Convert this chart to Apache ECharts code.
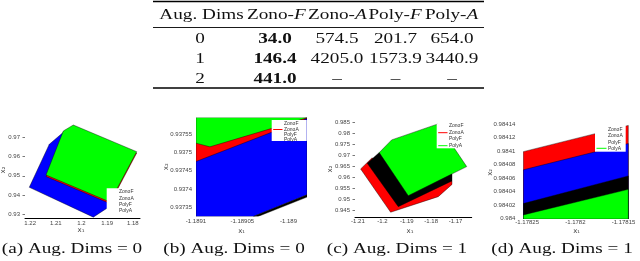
<!DOCTYPE html>
<html><head><meta charset="utf-8">
<script src="https://cdn.jsdelivr.net/npm/echarts@6/dist/echarts.min.js"></script>
<style>html,body{margin:0;padding:0;background:#fff}#c{width:640px;height:261px}</style>
</head><body><div id="c"></div>
<script>
// ---------- table data ----------
const tableHeader = ['Aug. Dims', 'Zono-F', 'Zono-A', 'Poly-F', 'Poly-A'];
const augDims = ['0', '1', '2'];
const zonoF = ['34.0', '146.4', '441.0'];
const zonoA = ['574.5', '4205.0', '–'];
const polyF = ['201.7', '1573.9', '–'];
const polyA = ['654.0', '3440.9', '–'];
const subCaptions = ['(a) Aug. Dims = 0', '(b) Aug. Dims = 0', '(c) Aug. Dims = 1', '(d) Aug. Dims = 1'];
const legendNames = ['ZonoF', 'ZonoA', 'PolyF', 'PolyA'];

// ---------- plot (a) ----------
const aXTicks = [1.18, 1.19, 1.2, 1.21, 1.22];
const aYTicks = [0.93, 0.94, 0.95, 0.96, 0.97];
const aBlue = [[1.22033,0.94399],[1.21253,0.96639],[1.20603,0.97383],[1.18694,0.93581],[1.19539,0.92845]];
const aRed = [[1.21382,0.94962],[1.18889,0.93555],[1.17849,0.96185],[1.20318,0.97592]];
const aGreen = [[1.21382,0.95040],[1.20708,0.97331],[1.20318,0.97644],[1.17849,0.96253],[1.18889,0.93633]];

// ---------- plot (b) ----------
const bXTicks = [-1.1891, -1.18905, -1.189];
const bYTicks = [0.93735, 0.9374, 0.93745, 0.9375, 0.93755];
const bGreen = [[-1.1891,0.937595],[-1.18898,0.937595],[-1.18898,0.937594],[-1.189085,0.937515],[-1.1891,0.937525]];
const bRed = [[-1.1891,0.937534],[-1.18898,0.937595],[-1.18898,0.937575],[-1.1891,0.937465]];
const bBlue = [[-1.1891,0.937475],[-1.18898,0.937592],[-1.18898,0.937384],[-1.189038,0.937325],[-1.1891,0.937325]];
const bBlack = [[-1.189038,0.937325],[-1.18898,0.937384],[-1.18898,0.937378],[-1.189033,0.937325]];

// ---------- plot (c) ----------
const cXTicks = [-1.21, -1.2, -1.19, -1.18, -1.17];
const cYTicks = [0.945, 0.95, 0.955, 0.96, 0.965, 0.97, 0.975, 0.98, 0.985];
const cRed = [[-1.20889,0.96386],[-1.20426,0.96886],[-1.17148,0.95841],[-1.17148,0.95682],[-1.17709,0.95127],[-1.19660,0.94418]];
const cBlack = [[-1.20619,0.96645],[-1.20127,0.97127],[-1.17148,0.96159],[-1.17148,0.95841],[-1.19348,0.94673]];
const cGreen = [[-1.20127,0.97127],[-1.19619,0.97705],[-1.17721,0.98432],[-1.16545,0.96491],[-1.18939,0.95173]];

// ---------- plot (d) ----------
const dXTicks = [-1.17825, -1.1782, -1.17815];
const dYTicks = [0.984, 0.98402, 0.98404, 0.98406, 0.98408, 0.9841, 0.98412, 0.98414];
const dRed = [[-1.178254,0.984099],[-1.178145,0.984138],[-1.178145,0.983999],[-1.178254,0.983999]];
const dBlue = [[-1.178254,0.984072],[-1.178145,0.984111],[-1.178145,0.983999],[-1.178254,0.983999]];
const dBlack = [[-1.178254,0.984022],[-1.178145,0.984063],[-1.178145,0.983999],[-1.178254,0.983999]];
const dGreen = [[-1.178254,0.984005],[-1.178145,0.984043],[-1.178145,0.983999],[-1.178254,0.983999]];

// ---------- build chart ----------
const COL = {green:'#00ff00', red:'#ff0000', blue:'#0000ff', black:'#000000'};
const fmt = v => String(+(+v).toFixed(8));
const tickText = {fontSize: 6, fontFamily: 'Liberation Sans', color: '#444'};

const grids = [
  {left: 25, top: 122, width: 115, height: 96},
  {left: 196, top: 117.5, width: 111, height: 99},
  {left: 355, top: 118, width: 116.7, height: 99.7},
  {left: 523.3, top: 117.3, width: 105, height: 101.7}
].map(g => Object.assign({outerBoundsMode: 'none', containLabel: false, show: false}, g));

function xAx(i, min, max, ticks, showLine, margin, inverse) {
  return {gridIndex: i, type: 'value', min, max, inverse: !!inverse,
    axisLine: {show: showLine, onZero: false, lineStyle: {color: '#000', width: 1}},
    axisTick: {show: false}, splitLine: {show: false},
    axisLabel: Object.assign({customValues: ticks, formatter: fmt, margin}, tickText)};
}
function yAx(i, min, max, ticks, showTick, margin) {
  return {gridIndex: i, type: 'value', min, max,
    axisLine: {show: false, onZero: false},
    axisTick: {show: showTick, customValues: ticks, length: 2.5, lineStyle: {color: '#555', width: 0.8}},
    splitLine: {show: false},
    axisLabel: Object.assign({customValues: ticks, formatter: fmt, margin}, tickText)};
}

const xAxes = [
  xAx(0, 1.1772, 1.222, aXTicks, true, 2, true),
  xAx(1, -1.1891, -1.18898, bXTicks, false, 2),
  xAx(2, -1.2112, -1.1634, cXTicks, true, 1),
  xAx(3, -1.178254, -1.178145, dXTicks, false, 0.5)
];
const yAxes = [
  yAx(0, 0.928, 0.978, aYTicks, true, 5),
  yAx(1, 0.937325, 0.937595, bYTicks, false, 4),
  yAx(2, 0.9417, 0.987, cYTicks, true, 5),
  yAx(3, 0.983999, 0.98415, dYTicks, false, 8)
];

function poly(i, pts, color) {
  return {type: 'custom', xAxisIndex: i, yAxisIndex: i, clip: true, silent: true,
    data: pts, encode: {x: 0, y: 1},
    renderItem: (params, api) => {
      if (params.dataIndex !== 0) return null;
      return {type: 'polygon', shape: {points: pts.map(p => api.coord(p))},
        style: {fill: color, stroke: '#000', lineWidth: 0.4}};
    }};
}
const series = [
  poly(0, aBlue, COL.blue), poly(0, aRed, COL.red), poly(0, aGreen, COL.green),
  poly(1, bRed, COL.red), poly(1, bGreen, COL.green), poly(1, bBlue, COL.blue), poly(1, bBlack, COL.black),
  poly(2, cRed, COL.red), poly(2, cBlack, COL.black), poly(2, cGreen, COL.green),
  poly(3, dRed, COL.red), poly(3, dBlue, COL.blue), poly(3, dBlack, COL.black), poly(3, dGreen, COL.green)
];

// ---------- graphic: table, captions, axis names, legends ----------
const G = [];
function txt(x, y, text, o) {
  o = o || {};
  G.push({type: 'text', x, y, z: 100, scaleX: o.sx || 1, rotation: o.rot || 0, silent: true,
    style: {text, fontSize: o.fs || 15, fontFamily: o.ff || 'Liberation Serif',
      fontWeight: o.fw || 'normal', fontStyle: o.fst || 'normal', fill: o.fill || '#111',
      textAlign: o.align || 'center', textVerticalAlign: 'middle'}});
}
function line(x1, y1, x2, y2, w, c) {
  G.push({type: 'line', z: 100, silent: true, shape: {x1, y1, x2, y2}, style: {stroke: c || '#000', lineWidth: w}});
}
const SX = 1.28;
line(153, 1.5, 484, 1.5, 1.6);
line(153, 27.5, 484, 27.5, 0.9);
line(153, 88, 484, 88, 1.6);
txt(201.5, 15, tableHeader[0], {sx: SX});
const joins = [293.9, 355, 410, 466.5];
for (let k = 1; k < 5; k++) {
  const h = tableHeader[k];
  txt(joins[k - 1], 15, h.slice(0, -1), {sx: SX, align: 'right'});
  txt(joins[k - 1], 15, h.slice(-1), {sx: SX, align: 'left', fst: 'italic'});
}
const rowY = [39, 59, 79];
const colX = [200, 275, 337, 395.5, 452];
for (let r = 0; r < 3; r++) {
  txt(colX[0], rowY[r], augDims[r], {sx: SX});
  txt(colX[1], rowY[r], zonoF[r], {sx: SX, fw: 'bold'});
  txt(colX[2], rowY[r], zonoA[r], {sx: SX});
  txt(colX[3], rowY[r], polyF[r], {sx: SX});
  txt(colX[4], rowY[r], polyA[r], {sx: SX});
}
const capX = [72, 234, 397, 562];
subCaptions.forEach((s, i) => txt(capX[i], 249, s, {sx: SX}));

// axis names
const x1Pos = [[81, 230], [241.7, 231], [410, 231.5], [576.7, 231.5]];
const x2Pos = [[3, 170], [166, 166.7], [330, 169], [490, 172.3]];
x1Pos.forEach(p => txt(p[0], p[1], 'x₁', {fs: 7, ff: 'DejaVu Sans', fill: '#444'}));
x2Pos.forEach(p => txt(p[0], p[1], 'x₂', {fs: 7, ff: 'DejaVu Sans', fill: '#444', rot: Math.PI / 2}));

// legends
function legend(box, tx, ys, marks) {
  G.push({type: 'rect', z: 90, silent: true, shape: {x: box[0], y: box[1], width: box[2], height: box[3]}, style: {fill: '#fff'}});
  legendNames.forEach((n, i) => txt(tx, ys[i], n, {fs: 5, ff: 'Liberation Sans', fill: '#333', align: 'left'}));
  marks.forEach(m => line(box[0] + 1.5, ys[m[0]], tx - 1.5, ys[m[0]], 1, m[1]));
}
legend([106.7, 188.3, 31.6, 28.4], 119, [191.7, 198.3, 204.5, 211], []);
legend([271.7, 120, 35, 21], 284, [124, 129.5, 134.5, 139.5], [[1, COL.red]]);
legend([436.7, 123.3, 30, 25], 449, [125.7, 132.7, 139, 145.7], [[1, COL.red], [3, COL.green]]);
legend([595, 124.3, 30.7, 27.4], 608, [130, 135.7, 142.7, 148.3], [[3, COL.green]]);

const chart = echarts.init(document.getElementById('c'), null, {renderer: 'canvas', width: 640, height: 261});
chart.setOption({
  animation: false,
  backgroundColor: '#fff',
  grid: grids, xAxis: xAxes, yAxis: yAxes, series,
  graphic: {elements: G}
});
</script></body></html>
